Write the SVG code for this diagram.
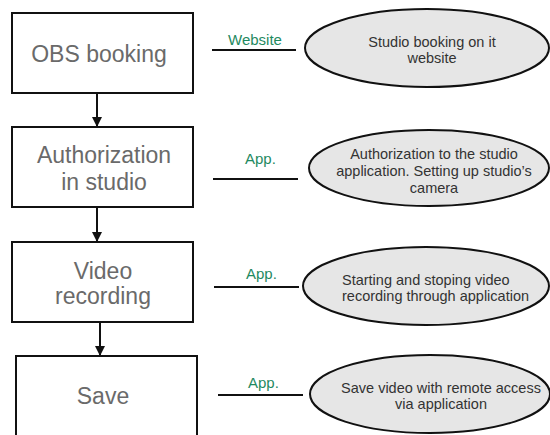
<svg xmlns="http://www.w3.org/2000/svg" width="550" height="435" viewBox="0 0 550 435">
<style>
.box{fill:#fff;stroke:#111;stroke-width:2}
.bt{font-family:"Liberation Sans",Arial,sans-serif;font-size:23px;fill:#6a6a6a;text-anchor:middle}
.ell{fill:#e6e6e6;stroke:#111;stroke-width:2}
.et{font-family:"Liberation Sans",Arial,sans-serif;font-size:14.5px;fill:#333}
.lbl{font-family:"Liberation Sans",Arial,sans-serif;font-size:15px;fill:#1f8a5f}
.ln{stroke:#111;stroke-width:2;fill:none}
</style>
<defs>
<marker id="ah" viewBox="0 0 10 10" refX="10" refY="5" markerWidth="10" markerHeight="10" markerUnits="userSpaceOnUse" orient="auto">
<path d="M0,0 L10,5 L0,10 Z" fill="#111"/>
</marker>
</defs>
<rect width="550" height="435" fill="#fff"/>
<g id="connectors">
<line class="ln" x1="97" y1="93" x2="97" y2="127" marker-end="url(#ah)"/>
<line class="ln" x1="97" y1="207" x2="97" y2="242" marker-end="url(#ah)"/>
<line class="ln" x1="100" y1="322" x2="100" y2="356" marker-end="url(#ah)"/>
<line class="ln" x1="212" y1="50" x2="296" y2="50"/>
<line class="ln" x1="213" y1="179" x2="298" y2="179"/>
<line class="ln" x1="214" y1="287" x2="299" y2="287"/>
<line class="ln" x1="218" y1="395" x2="303" y2="395"/>
<text class="lbl" x="228" y="45">Website</text>
<text class="lbl" x="245" y="164">App.</text>
<text class="lbl" x="246" y="279">App.</text>
<text class="lbl" x="248" y="388">App.</text>
</g>
<g id="n1">
<rect class="box" x="12" y="13" width="181" height="80"/>
<text class="bt" x="99" y="62">OBS booking</text>
</g>
<g id="n2">
<rect class="box" x="12" y="127" width="181" height="80"/>
<text class="bt" x="104" y="163">Authorization</text>
<text class="bt" x="104" y="190">in studio</text>
</g>
<g id="n3">
<rect class="box" x="12" y="242" width="181" height="80"/>
<text class="bt" x="103" y="279">Video</text>
<text class="bt" x="103" y="304">recording</text>
</g>
<g id="n4">
<rect class="box" x="16" y="356" width="181" height="90"/>
<text class="bt" x="103" y="404">Save</text>
</g>
<g id="e1">
<ellipse class="ell" cx="427" cy="48" rx="122" ry="39"/>
<text class="et" x="432" y="47" text-anchor="middle">Studio booking on it</text>
<text class="et" x="432" y="63" text-anchor="middle">website</text>
</g>
<g id="e2">
<ellipse class="ell" cx="429" cy="168" rx="120" ry="38"/>
<text class="et" x="434" y="159" text-anchor="middle">Authorization to the studio</text>
<text class="et" x="434" y="176" text-anchor="middle">application. Setting up studio’s</text>
<text class="et" x="434" y="193" text-anchor="middle">camera</text>
</g>
<g id="e3">
<ellipse class="ell" cx="426" cy="286" rx="123" ry="39"/>
<text class="et" x="342" y="285">Starting and stoping video</text>
<text class="et" x="342" y="301">recording through application</text>
</g>
<g id="e4">
<ellipse class="ell" cx="430" cy="394" rx="120" ry="39"/>
<text class="et" x="441" y="393" text-anchor="middle">Save video with remote access</text>
<text class="et" x="441" y="409" text-anchor="middle">via application</text>
</g>
</svg>
